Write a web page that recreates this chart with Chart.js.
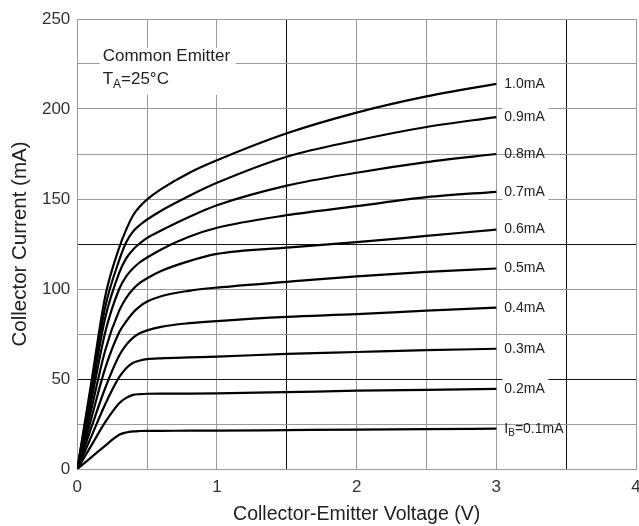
<!DOCTYPE html>
<html>
<head>
<meta charset="utf-8">
<script src="https://cdn.jsdelivr.net/npm/chart.js@4/dist/chart.umd.min.js"></script>
<style>
  html, body { margin: 0; padding: 0; background: #fff; }
  #wrap { width: 639px; height: 526px; }
</style>
</head>
<body>
<div id="wrap"><canvas id="myChart" width="639" height="526"></canvas></div>
<script>
// collector-emitter voltage points (V), shared by all curves
const vce = [0, 0.1, 0.2, 0.3, 0.35, 0.4, 0.45, 0.5, 0.6, 0.8, 1, 1.5, 2, 2.5, 3];

// base current labels
const ibLabels = ['I_B=0.1mA', '0.2mA', '0.3mA', '0.4mA', '0.5mA', '0.6mA', '0.7mA', '0.8mA', '0.9mA', '1.0mA'];

// collector current (mA) for each base current
const ic01 = [0, 6.5, 13, 19, 20.3, 20.9, 21.1, 21.2, 21.2, 21.3, 21.3, 21.6, 21.9, 22.1, 22.4];
const ic02 = [0, 13, 26, 36.5, 39.5, 41.2, 41.6, 41.8, 41.9, 41.9, 42, 42.7, 43.5, 44, 44.5];
const ic03 = [0, 18, 36, 51, 56, 59, 60.3, 61, 61.5, 62, 62.4, 64, 65, 66, 66.8];
const ic04 = [0, 23, 45, 63, 69, 73, 75.5, 77, 79, 81, 82.2, 84.5, 86, 88, 89.6];
const ic05 = [0, 28, 56, 76, 82, 87, 90.5, 93, 96, 99, 100.8, 104, 107, 109.5, 111.4];
const ic06 = [0, 33, 66, 88, 95, 100, 103.5, 106, 110, 115.5, 119.5, 123, 126, 129.5, 133];
const ic07 = [0, 38, 76, 100, 107, 111.5, 115, 117.5, 122, 129, 134, 141, 146, 151, 154];
const ic08 = [0, 42, 84, 109, 117, 122, 125.5, 128.4, 132.5, 140, 146.5, 157.4, 164.6, 170.5, 175];
const ic09 = [0, 45, 90, 116, 126, 132, 135.7, 138.6, 143.5, 151.7, 159, 173.5, 182.5, 190, 195.5];
const ic10 = [0, 48, 96, 123, 133, 141, 146, 149.8, 155.5, 164.5, 171.5, 186.5, 198, 207, 214];

const allCurves = [ic01, ic02, ic03, ic04, ic05, ic06, ic07, ic08, ic09, ic10];

const FONT = 'Liberation Sans, Arial, Helvetica, sans-serif';
const GRID = '#9a9a9a';
const DARK = '#111';
// labels that sit on a white box (hiding the grid line behind them)
const boxedLabels = [false, true, true, true, true, true, true, false, true, true];

// draws text with a small subscript part, e.g. T + A + =25°C
function drawSub(ctx, x, y, main, sub, rest, size) {
  ctx.font = size + 'px ' + FONT;
  ctx.fillText(main, x, y);
  x += ctx.measureText(main).width;
  ctx.font = Math.round(size * 0.7) + 'px ' + FONT;
  ctx.fillText(sub, x, y + size * 0.3);
  x += ctx.measureText(sub).width;
  ctx.font = size + 'px ' + FONT;
  ctx.fillText(rest, x, y);
}

const labelPlugin = {
  id: 'curveLabels',
  afterDatasetsDraw(chart) {
    const ctx = chart.ctx;
    const xs = chart.scales.x;
    const ys = chart.scales.y;
    ctx.save();
    ctx.textBaseline = 'middle';
    ctx.textAlign = 'left';
    allCurves.forEach((arr, i) => {
      const px = xs.getPixelForValue(vce[vce.length - 1]) + 8;
      const py = ys.getPixelForValue(arr[arr.length - 1]);
      const txt = ibLabels[i];
      if (boxedLabels[i]) {
        ctx.fillStyle = '#fff';
        ctx.fillRect(px - 2, py - 10, 46, 20);
      }
      ctx.fillStyle = '#222';
      if (txt.indexOf('I_B') === 0) {
        drawSub(ctx, px, py, 'I', 'B', txt.slice(3), 14);
      } else {
        ctx.font = '14px ' + FONT;
        ctx.fillText(txt, px, py);
      }
    });

    // test condition box
    const bx = xs.getPixelForValue(0.16);
    const by = ys.getPixelForValue(234);
    ctx.fillStyle = '#fff';
    ctx.fillRect(bx, by, 136, 47);
    ctx.fillStyle = '#222';
    ctx.font = '17px ' + FONT;
    ctx.fillText('Common Emitter', bx + 3, by + 9);
    drawSub(ctx, bx + 3, by + 32, 'T', 'A', '=25°C', 17);
    ctx.restore();
  }
};

const ctx = document.getElementById('myChart').getContext('2d');
new Chart(ctx, {
  type: 'line',
  data: {
    datasets: allCurves.map((arr, i) => ({
      label: ibLabels[i],
      data: vce.map((v, j) => ({ x: v, y: arr[j] })),
      borderColor: '#000',
      borderWidth: 2.2,
      pointRadius: 0,
      fill: false,
      cubicInterpolationMode: 'monotone',
    })),
  },
  options: {
    responsive: false,
    animation: false,
    layout: { padding: { top: 19, right: 3, left: 0, bottom: 0 } },
    plugins: {
      legend: { display: false },
      tooltip: { enabled: false },
    },
    scales: {
      x: {
        type: 'linear',
        min: 0,
        max: 4,
        afterFit(scale) {
          scale.height = 57;
          scale.paddingLeft = 0;
          scale.paddingRight = 0;
        },
        border: { display: true, color: GRID, width: 1 },
        grid: {
          drawTicks: false,
          color: (c) => (c.tick && (c.tick.value === 1.5 || c.tick.value === 3.5) ? DARK : GRID),
        },
        ticks: {
          stepSize: 0.5,
          padding: 8,
          color: '#333',
          font: { family: FONT, size: 17 },
          maxRotation: 0,
          autoSkip: false,
          callback: (v) => (Number.isInteger(v) ? v : ''),
        },
        title: {
          display: true,
          text: 'Collector-Emitter Voltage (V)',
          color: '#222',
          font: { family: FONT, size: 19.5 },
          padding: { top: 0, bottom: 0 },
        },
      },
      y: {
        min: 0,
        max: 250,
        afterFit(scale) { scale.width = 77.3; },
        border: { display: true, color: GRID, width: 1 },
        grid: {
          drawTicks: false,
          color: (c) => (c.tick && (c.tick.value === 125 || c.tick.value === 50) ? DARK : GRID),
        },
        ticks: {
          stepSize: 25,
          padding: 7,
          color: '#333',
          font: { family: FONT, size: 17 },
          autoSkip: false,
          callback: (v) => (v % 50 === 0 ? v : ''),
        },
        title: {
          display: true,
          text: 'Collector Current (mA)',
          color: '#222',
          font: { family: FONT, size: 20.5 },
          padding: { top: 8, bottom: 0 },
        },
      },
    },
  },
  plugins: [labelPlugin],
});
</script>
</body>
</html>
